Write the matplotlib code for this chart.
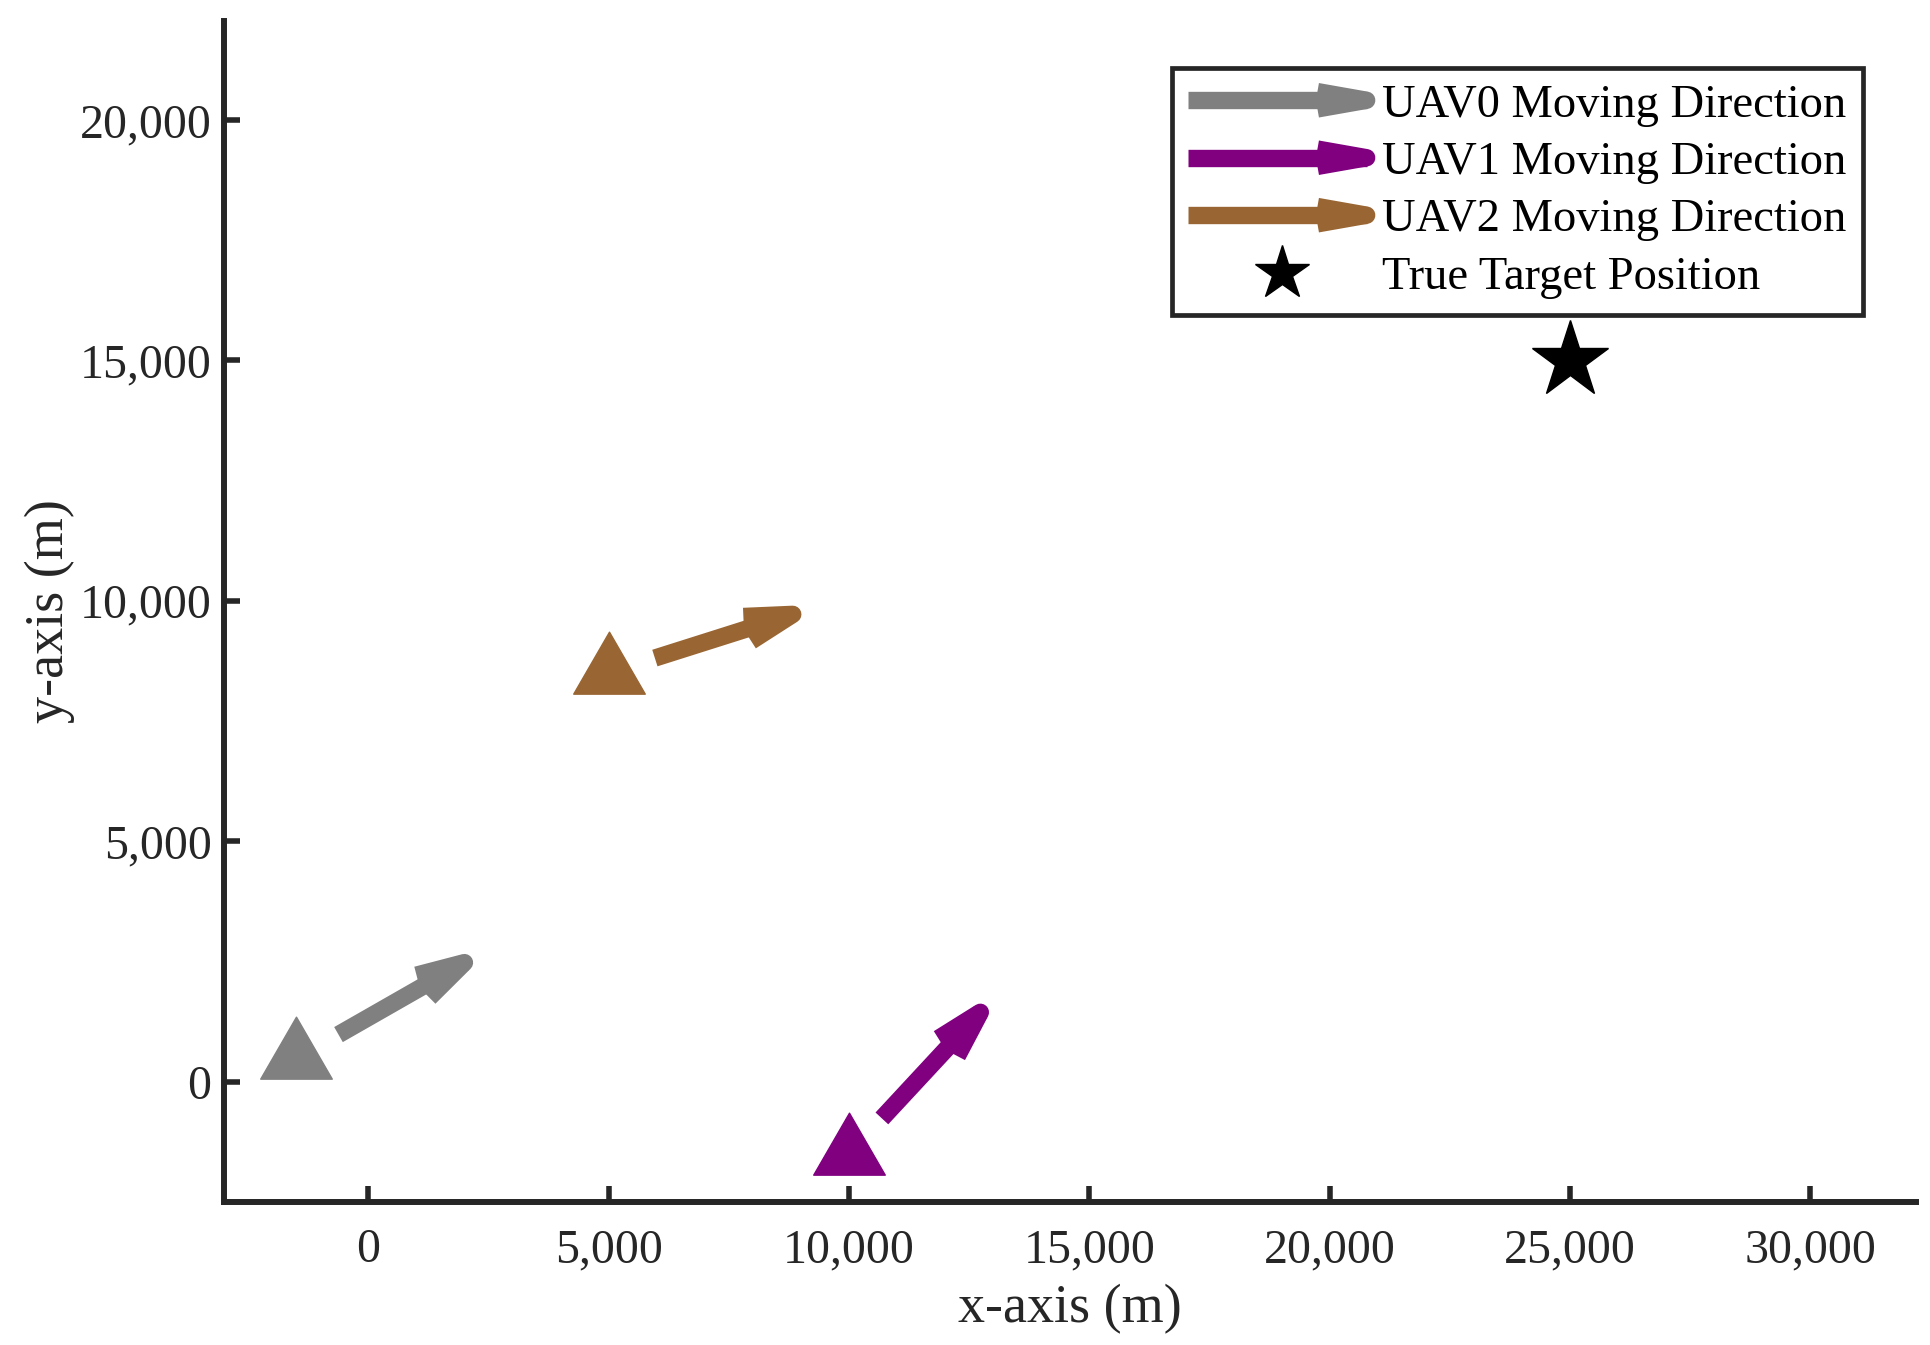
import numpy as np
import matplotlib
matplotlib.use("Agg")
import matplotlib.pyplot as plt
from matplotlib.path import Path
from matplotlib.lines import Line2D
from matplotlib.legend_handler import HandlerBase
from matplotlib.ticker import FuncFormatter

# UAV positions
uav_x = [-1500, 10000, 5000]
uav_y = [500, -1500, 8500]

# moving direction arrows (start -> tip)
arrow_x0 = [-618, 10687, 5964]
arrow_y0 = [982, -761, 8812]
arrow_x1 = [2003, 12736, 8833]
arrow_y1 = [2479, 1446, 9721]

uav_colors = ["#808080", "#800080", "#996633"]
uav_labels = ["UAV0 Moving Direction", "UAV1 Moving Direction", "UAV2 Moving Direction"]

# target
target_x = [25000]
target_y = [15000]
target_label = "True Target Position"

x_ticks = [0, 5000, 10000, 15000, 20000, 25000, 30000]
y_ticks = [0, 5000, 10000, 15000, 20000]

plt.rcParams['font.family'] = ['Liberation Serif', 'DejaVu Serif']
axis_col = "#262626"
LW = 12.5

# equilateral triangle, centred on its centroid (like matlab '^')
tri = Path([(0, 2/3), (-0.5774, -1/3), (0.5774, -1/3), (0, 2/3)],
           [Path.MOVETO, Path.LINETO, Path.LINETO, Path.CLOSEPOLY])


class HandlerQuiver(HandlerBase):
    def create_artists(self, legend, orig_handle, xdescent, ydescent,
                       width, height, fontsize, trans):
        c = orig_handle.get_color()
        y = height / 2 - ydescent
        xs = -xdescent
        xt = -xdescent + width - LW / 2
        hl = 36.0
        ang = np.deg2rad(10)
        shaft = Line2D([xs, xt], [y, y], color=c, lw=LW, solid_capstyle='butt',
                       transform=trans)
        head = Line2D([xt - hl*np.cos(ang), xt, xt - hl*np.cos(ang)],
                      [y + hl*np.sin(ang), y, y - hl*np.sin(ang)],
                      color=c, lw=LW, solid_capstyle='butt',
                      solid_joinstyle='round', transform=trans)
        return [shaft, head]


fig = plt.figure(figsize=(19.31, 13.45), dpi=100)
ax = fig.add_axes([0.1160, 0.1063, 0.8762, 0.8781])

a = 0.33
b = 0.27
for i in range(len(uav_x)):
    c = uav_colors[i]
    ax.plot(uav_x[i], uav_y[i], marker=tri, ms=59.5, color=c, ls='none')
    x0, y0, x1, y1 = arrow_x0[i], arrow_y0[i], arrow_x1[i], arrow_y1[i]
    u = x1 - x0
    v = y1 - y0
    ax.plot([x0, x1], [y0, y1], color=c, lw=LW, solid_capstyle='butt')
    hx = [x1 - a*(u + b*v), x1, x1 - a*(u - b*v)]
    hy = [y1 - a*(v - b*u), y1, y1 - a*(v + b*u)]
    ax.plot(hx, hy, color=c, lw=LW, solid_capstyle='butt', solid_joinstyle='round')

ax.plot(target_x, target_y, marker='*', ms=58, color='k', ls='none')

ax.set_xlim(-3000, 32200)
ax.set_ylim(-2500, 22060)
ax.set_xticks(x_ticks)
ax.set_yticks(y_ticks)
fmt = FuncFormatter(lambda val, pos: f"{int(val):,}")
ax.xaxis.set_major_formatter(fmt)
ax.yaxis.set_major_formatter(fmt)

for s in ['top', 'right']:
    ax.spines[s].set_visible(False)
for s in ['left', 'bottom']:
    ax.spines[s].set_linewidth(4.3)
    ax.spines[s].set_color(axis_col)
ax.tick_params(direction='in', length=11.5, width=4.0, color=axis_col,
               labelcolor=axis_col, labelsize=34.5)
ax.tick_params(axis='x', pad=19)
ax.tick_params(axis='y', pad=9)

ax.set_xlabel("x-axis (m)", fontsize=39, color=axis_col, labelpad=8)
ax.set_ylabel("y-axis (m)", fontsize=39, color=axis_col, labelpad=3)

# legend
proxies = [Line2D([], [], color=c) for c in uav_colors]
star_proxy = Line2D([], [], marker='*', ms=40.7, color='k', ls='none')
hmap = {p: HandlerQuiver() for p in proxies}
leg = ax.legend(proxies + [star_proxy], uav_labels + [target_label],
                handler_map=hmap, loc='upper right',
                bbox_to_anchor=(1863/1931, 1 - 67.7/1345),
                bbox_transform=fig.transFigure, borderaxespad=0,
                fontsize=33.5, handlelength=4.03, handletextpad=0.15,
                borderpad=0.35, labelspacing=0.32, fancybox=False,
                framealpha=1, edgecolor=axis_col)
leg.get_frame().set_linewidth(3.4)

fig.savefig("out.png", dpi=100)
